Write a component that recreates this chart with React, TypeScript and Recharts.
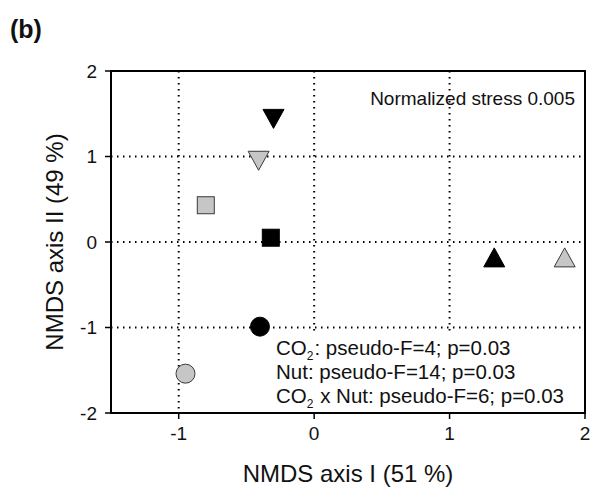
import { ScatterChart, Scatter, XAxis, YAxis, CartesianGrid, ReferenceArea, Customized } from 'recharts';

// NMDS ordination, one point per treatment
const treatments = ['CO2-Nut+ A', 'CO2-Nut A', 'Ctrl-Nut+ sq', 'Ctrl sq', 'CO2+ tri', 'CO2 tri', 'Nut circ', 'Ctrl circ'];
const axisI = [-0.30, -0.41, -0.80, -0.32, 1.33, 1.85, -0.40, -0.95];
const axisII = [1.44, 0.95, 0.43, 0.05, -0.18, -0.18, -0.99, -1.54];
const markerKinds = ['down', 'down', 'square', 'square', 'up', 'up', 'circle', 'circle'];
const markerFills = ['black', 'grey', 'grey', 'black', 'black', 'grey', 'black', 'grey'];

const xTicks = [-1, 0, 1, 2];
const yTicks = [-2, -1, 0, 1, 2];
const gridValues = [-1, 0, 1];

const stressText = 'Normalized stress 0.005';
const statLines = [
  { sub: true, rest: ': pseudo-F=4; p=0.03' },
  { sub: false, rest: 'Nut: pseudo-F=14; p=0.03' },
  { sub: true, rest: ' x Nut: pseudo-F=6; p=0.03' }
];

const data = treatments.map((name, i) => ({
  name,
  x: axisI[i],
  y: axisII[i],
  kind: markerKinds[i],
  fill: markerFills[i] === 'grey' ? '#c6c6c6' : '#000'
}));

const FONT = 'Arial, "Liberation Sans", sans-serif';

function Marker(props: any) {
  const { cx, cy, payload } = props;
  const stroke = payload.fill === '#000' ? '#000' : '#3a3a3a';
  if (payload.kind === 'circle') {
    return <circle cx={cx} cy={cy} r={9.5} fill={payload.fill} stroke={stroke} strokeWidth={1} />;
  }
  if (payload.kind === 'square') {
    return <rect x={cx - 8.5} y={cy - 8.5} width={17} height={17} fill={payload.fill} stroke={stroke} strokeWidth={1} />;
  }
  const w = 10.5, h = 9.5;
  const pts = payload.kind === 'up'
    ? `${cx - w},${cy + h} ${cx + w},${cy + h} ${cx},${cy - h}`
    : `${cx - w},${cy - h} ${cx + w},${cy - h} ${cx},${cy + h}`;
  return <polygon points={pts} fill={payload.fill} stroke={stroke} strokeWidth={1} />;
}

function Annotations() {
  return (
    <g fontFamily={FONT} fill="#111">
      <text x={10} y={38} fontSize={25} fontWeight="bold">(b)</text>
      <text x={575} y={105} fontSize={19} textAnchor="end">{stressText}</text>
      <rect x={268} y={333} width={315} height={78} fill="#fff" />
      {statLines.map((l, i) => (
        <text key={i} x={276} y={355 + i * 24} fontSize={20.5}>
          {l.sub ? (
            <>
              CO<tspan fontSize={12} dy={5}>2</tspan><tspan dx={1} dy={-5}>{l.rest}</tspan>
            </>
          ) : l.rest}
        </text>
      ))}
      <text x={348} y={476} fontSize={24} textAnchor="middle" dominantBaseline="middle">NMDS axis I (51 %)</text>
      <text x={57} y={242} fontSize={24} textAnchor="middle" dominantBaseline="middle" transform="rotate(-90 57 242)">
        NMDS axis II (49 %)
      </text>
    </g>
  );
}

export default function App() {
  const tick = { fill: '#111', fontSize: 19, fontFamily: FONT };
  return (
    <div style={{ position: 'absolute', left: 0, top: 0, width: 590, height: 493, background: '#fff' }}>
      <ScatterChart width={590} height={493} margin={{ top: 71, right: 5, bottom: 20, left: 51 }}>
        <CartesianGrid
          horizontalValues={gridValues}
          verticalValues={gridValues}
          stroke="#000"
          strokeWidth={2}
          strokeDasharray="1.5 4.5"
        />
        <XAxis
          type="number"
          dataKey="x"
          domain={[-1.5, 2]}
          ticks={xTicks}
          height={60}
          tick={tick}
          tickSize={6}
          tickMargin={8}
          axisLine={{ stroke: '#000', strokeWidth: 2 }}
          tickLine={{ stroke: '#000', strokeWidth: 1.5 }}
          allowDataOverflow
        />
        <YAxis
          type="number"
          dataKey="y"
          domain={[-2, 2]}
          ticks={yTicks}
          width={60}
          tick={tick}
          tickSize={6}
          tickMargin={8}
          axisLine={{ stroke: '#000', strokeWidth: 2 }}
          tickLine={{ stroke: '#000', strokeWidth: 1.5 }}
          allowDataOverflow
        />
        <Customized component={<Annotations />} />
        <ReferenceArea x1={-1.5} x2={2} y1={-2} y2={2} fill="none" stroke="#000" strokeWidth={2} ifOverflow="visible" />
        <Scatter data={data} shape={(p: any) => <Marker {...p} />} isAnimationActive={false} />
      </ScatterChart>
    </div>
  );
}
